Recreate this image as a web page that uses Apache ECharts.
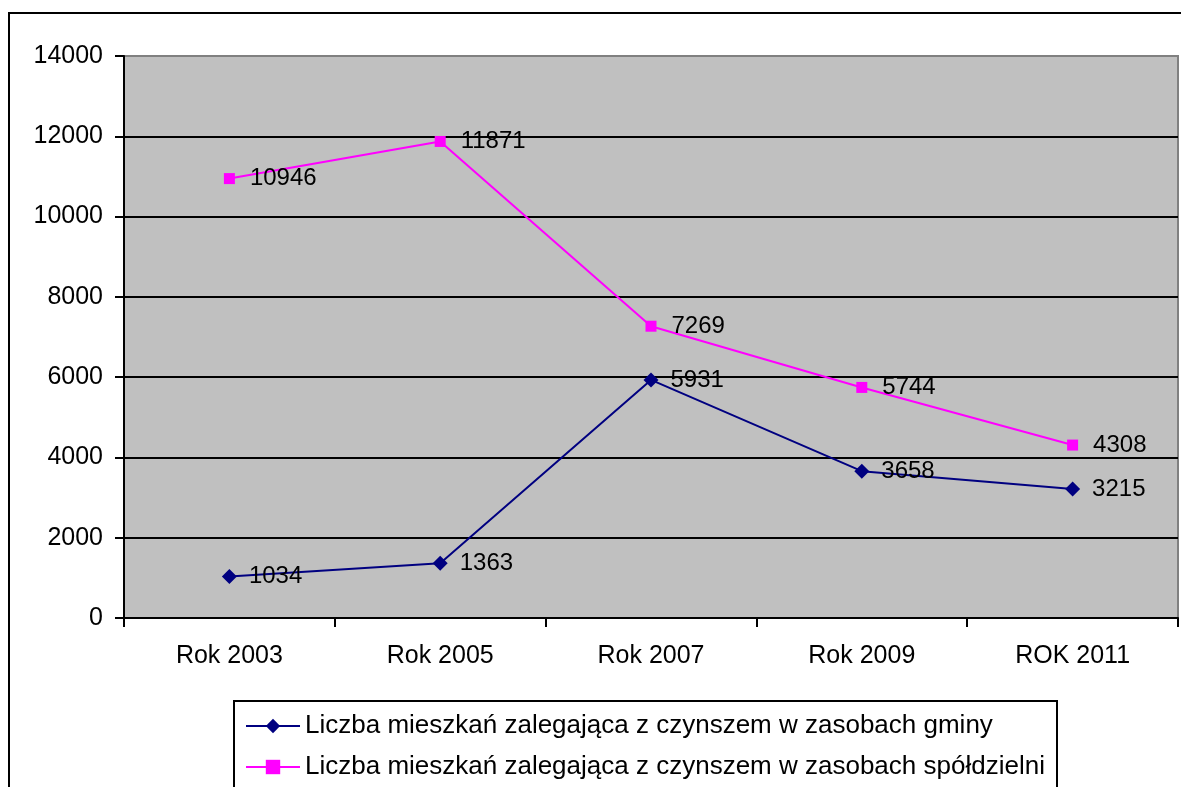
<!DOCTYPE html>
<html>
<head>
    <meta charset="UTF-8">
    <title>Liczba mieszkań zalegająca z czynszem</title>
    <script src="https://cdn.jsdelivr.net/npm/echarts@6/dist/echarts.min.js"></script>
    <style>
        html, body { margin: 0; padding: 0; background: #fff; }
        #chart { width: 1181px; height: 787px; }
    </style>
</head>
<body>
<div id="chart"></div>
<script>
    // dane
    var years = ['Rok 2003', 'Rok 2005', 'Rok 2007', 'Rok 2009', 'ROK 2011'];
    var gmina = [1034, 1363, 5931, 3658, 3215];
    var spoldzielnia = [10946, 11871, 7269, 5744, 4308];
    var nameGmina = 'Liczba mieszkań zalegająca z czynszem w zasobach gminy';
    var nameSpol = 'Liczba mieszkań zalegająca z czynszem w zasobach spółdzielni';

    var font = 'Arial, "Liberation Sans", sans-serif';
    var chart = echarts.init(document.getElementById('chart'));

    function labelStyle(dist) {
        return {
            show: true,
            position: 'right',
            distance: dist,
            color: '#000',
            fontSize: 24,
            fontFamily: font
        };
    }

    var option = {
        animation: false,
        backgroundColor: '#fff',
        graphic: [{
            type: 'rect',
            shape: { x: 9, y: 13, width: 1200, height: 800 },
            style: { fill: 'none', stroke: '#000', lineWidth: 2 },
            silent: true
        }, {
            // ramka legendy (wychodzi poza dolną krawędź)
            type: 'rect',
            shape: { x: 234, y: 701, width: 823, height: 120 },
            style: { fill: 'none', stroke: '#000', lineWidth: 2 },
            silent: true
        }],
        grid: {
            left: 124, top: 56, right: 3, bottom: 169,
            show: true,
            backgroundColor: '#C0C0C0',
            borderColor: '#808080',
            borderWidth: 2
        },
        legend: {
            orient: 'vertical',
            left: 234,
            top: 701,
            padding: [12, 8, 0, 11],
            itemGap: 15,
            itemWidth: 54,
            itemHeight: 18,
            textStyle: { color: '#000', fontSize: 26, fontFamily: font },
            data: [nameGmina, nameSpol]
        },
        xAxis: {
            type: 'category',
            data: years,
            boundaryGap: true,
            axisLine: { lineStyle: { color: '#000', width: 2 } },
            axisTick: { show: true, interval: 0, length: 9, lineStyle: { color: '#000', width: 2 } },
            axisLabel: { color: '#000', fontSize: 25, fontFamily: font, margin: 26 },
            splitLine: { show: false }
        },
        yAxis: {
            type: 'value',
            min: 0,
            max: 14000,
            interval: 2000,
            axisLine: { show: true, lineStyle: { color: '#000', width: 2 } },
            axisTick: { show: true, length: 9, lineStyle: { color: '#000', width: 2 } },
            axisLabel: {
                color: '#000', fontSize: 25, fontFamily: font, margin: 21,
                formatter: function (v) { return String(v); }
            },
            splitLine: {
                show: true,
                lineStyle: {
                    color: ['#000', '#000', '#000', '#000', '#000', '#000', '#000', '#808080'],
                    width: 2
                }
            }
        },
        series: [
            {
                name: nameGmina,
                type: 'line',
                data: gmina,
                symbol: 'diamond',
                symbolSize: 15,
                lineStyle: { color: '#000080', width: 2 },
                itemStyle: { color: '#000080' },
                label: labelStyle(12)
            },
            {
                name: nameSpol,
                type: 'line',
                data: spoldzielnia,
                symbol: 'rect',
                symbolSize: 11,
                lineStyle: { color: '#FF00FF', width: 2 },
                itemStyle: { color: '#FF00FF' },
                label: labelStyle(15)
            }
        ]
    };

    chart.setOption(option);
</script>
</body>
</html>
